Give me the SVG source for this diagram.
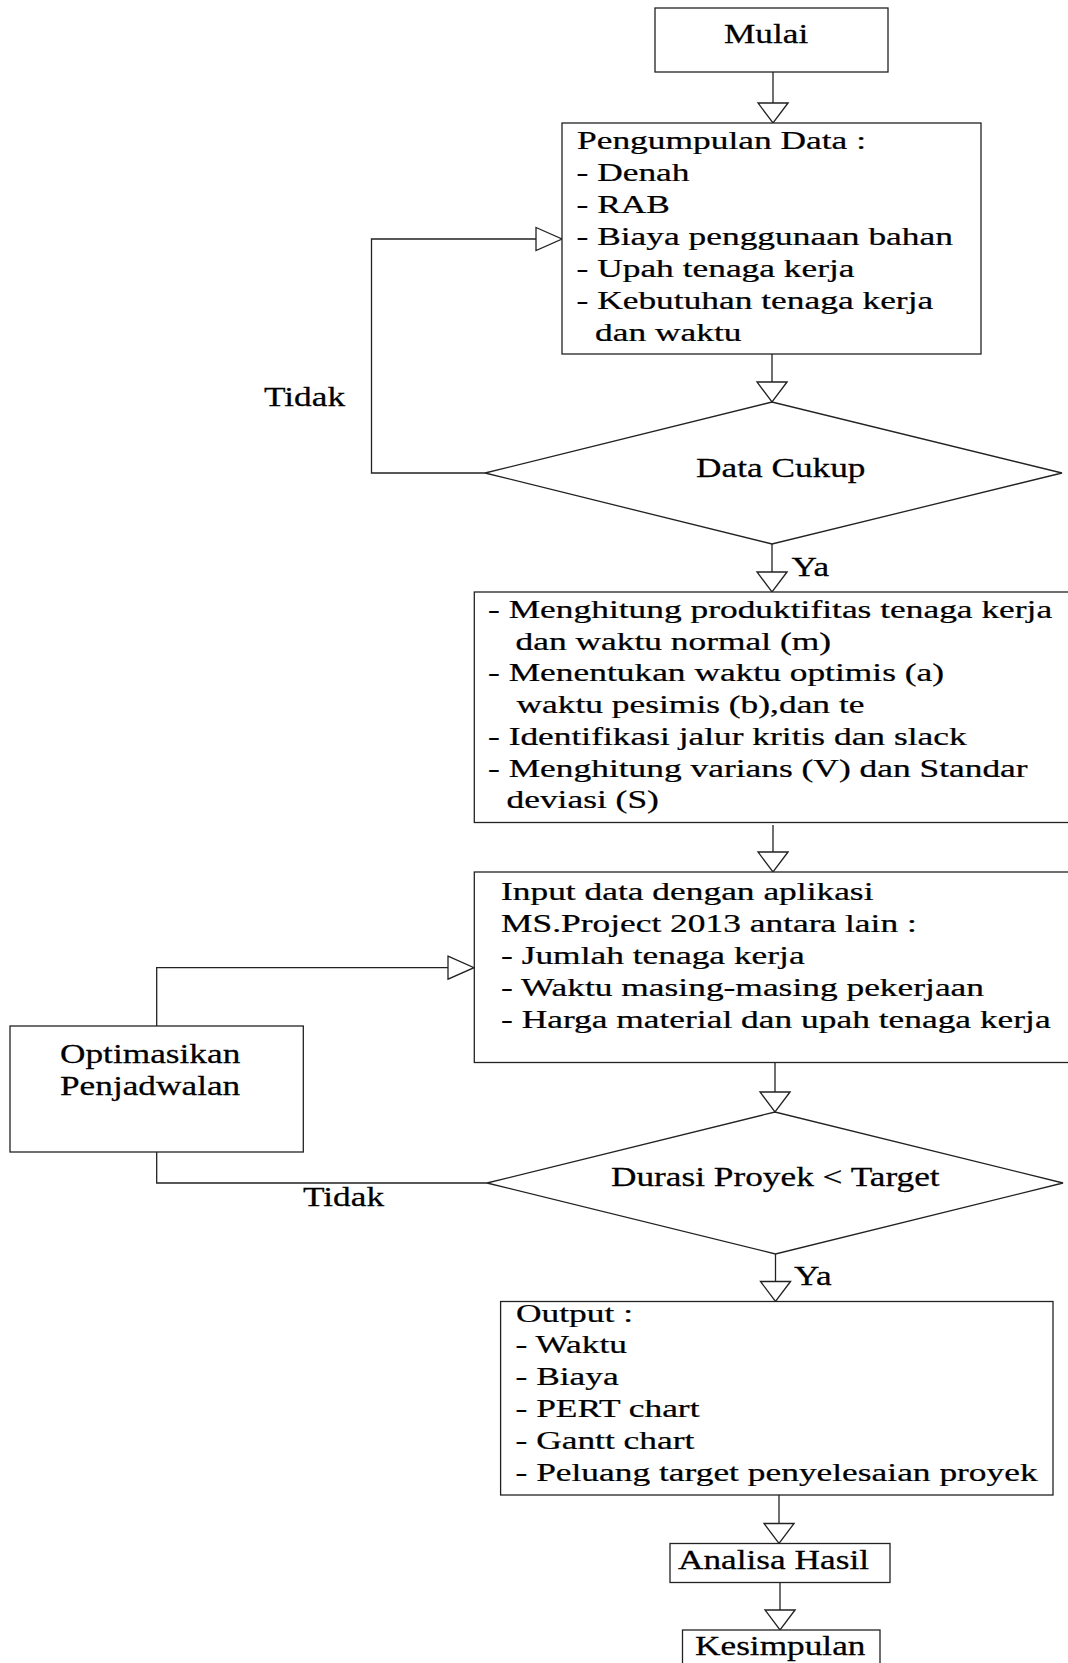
<svg xmlns="http://www.w3.org/2000/svg" width="1068" height="1663" viewBox="0 0 1068 1663">
<style>
.box{fill:#fff;stroke:#222;stroke-width:1.3}
.ln{fill:none;stroke:#222;stroke-width:1.3}
.t{font-family:"Liberation Serif","Times New Roman",serif;font-size:26px;fill:#000;stroke:#000;stroke-width:0.25}
.l{font-family:"Liberation Serif","Times New Roman",serif;font-size:27px;fill:#000;stroke:#000;stroke-width:0.25}
</style>
<defs>
<marker id="av" markerUnits="userSpaceOnUse" viewBox="0 0 20 30" refX="20" refY="15" markerWidth="20" markerHeight="30" orient="auto" overflow="visible">
<path d="M0,0 L20,15 L0,30 Z" fill="#fff" stroke="#222" stroke-width="1.3"/>
</marker>
<marker id="ah" markerUnits="userSpaceOnUse" viewBox="0 0 26 23" refX="26" refY="11.5" markerWidth="26" markerHeight="23" orient="auto" overflow="visible">
<path d="M0,0 L26,11.5 L0,23 Z" fill="#fff" stroke="#222" stroke-width="1.3"/>
</marker>
</defs>

<g id="connectors">
<path class="ln" d="M773,72 V123" marker-end="url(#av)"/>
<path class="ln" d="M772,354 V402" marker-end="url(#av)"/>
<path class="ln" d="M772,544 V592" marker-end="url(#av)"/>
<path class="ln" d="M485,473 H371.5 V239 H562" marker-end="url(#ah)"/>
<path class="ln" d="M773,825 V872" marker-end="url(#av)"/>
<path class="ln" d="M775,1062.5 V1112" marker-end="url(#av)"/>
<path class="ln" d="M487,1183 H156.7 V1152"/>
<path class="ln" d="M156.7,1026 V967.7 H474" marker-end="url(#ah)"/>
<path class="ln" d="M775.5,1254 V1301.5" marker-end="url(#av)"/>
<path class="ln" d="M779,1495 V1543.5" marker-end="url(#av)"/>
<path class="ln" d="M780,1582.5 V1630" marker-end="url(#av)"/>
<text class="l" x="0" y="405.7" transform="matrix(1.307 0 0 1 264 0)">Tidak</text>
<text class="l" x="0" y="575.7" transform="matrix(1.307 0 0 1 791.5 0)">Ya</text>
<text class="l" x="0" y="1205.7" transform="matrix(1.307 0 0 1 303 0)">Tidak</text>
<text class="l" x="0" y="1285" transform="matrix(1.307 0 0 1 794 0)">Ya</text>
</g>

<g id="n-mulai">
<rect class="box" x="655" y="8" width="233" height="64"/>
<text class="l" x="0" y="43.4" transform="matrix(1.307 0 0 1 724 0)">Mulai</text>
</g>

<g id="n-pengumpulan">
<rect class="box" x="562" y="123" width="419" height="231"/>
<text class="t" x="0" y="149" transform="matrix(1.362 0 0 1 577 0)">Pengumpulan Data :</text>
<text class="t" x="0" y="181.5" transform="matrix(1.362 0 0 1 576.5 0)">- Denah</text>
<text class="t" x="0" y="213.5" transform="matrix(1.362 0 0 1 576.5 0)">- RAB</text>
<text class="t" x="0" y="245.5" transform="matrix(1.362 0 0 1 576.5 0)">- Biaya penggunaan bahan</text>
<text class="t" x="0" y="277.5" transform="matrix(1.362 0 0 1 576.5 0)">- Upah tenaga kerja</text>
<text class="t" x="0" y="309.5" transform="matrix(1.362 0 0 1 576.5 0)">- Kebutuhan tenaga kerja</text>
<text class="t" x="0" y="341.5" transform="matrix(1.362 0 0 1 595 0)">dan waktu</text>
</g>

<g id="n-cukup">
<polygon class="box" points="485,473 772,402 1062,473 772,544"/>
<text class="l" x="0" y="477.3" transform="matrix(1.307 0 0 1 696 0)">Data Cukup</text>
</g>

<g id="n-hitung">
<rect class="box" x="474.3" y="592" width="600" height="230.5"/>
<text class="t" x="0" y="618.3" transform="matrix(1.362 0 0 1 488 0)">- Menghitung produktifitas tenaga kerja</text>
<text class="t" x="0" y="649.8" transform="matrix(1.362 0 0 1 515.5 0)">dan waktu normal (m)</text>
<text class="t" x="0" y="681.5" transform="matrix(1.362 0 0 1 488 0)">- Menentukan waktu optimis (a)</text>
<text class="t" x="0" y="713.3" transform="matrix(1.362 0 0 1 516.5 0)">waktu pesimis (b),dan te</text>
<text class="t" x="0" y="745" transform="matrix(1.362 0 0 1 488 0)">- Identifikasi jalur kritis dan slack</text>
<text class="t" x="0" y="776.8" transform="matrix(1.362 0 0 1 488 0)">- Menghitung varians (V) dan Standar</text>
<text class="t" x="0" y="808.5" transform="matrix(1.362 0 0 1 506.5 0)">deviasi (S)</text>
</g>

<g id="n-input">
<rect class="box" x="474.3" y="872" width="600" height="190.5"/>
<text class="t" x="0" y="900" transform="matrix(1.362 0 0 1 501 0)">Input data dengan aplikasi</text>
<text class="t" x="0" y="932" transform="matrix(1.362 0 0 1 501 0)">MS.Project 2013 antara lain :</text>
<text class="t" x="0" y="964" transform="matrix(1.362 0 0 1 501 0)">- Jumlah tenaga kerja</text>
<text class="t" x="0" y="996" transform="matrix(1.362 0 0 1 501 0)">- Waktu masing-masing pekerjaan</text>
<text class="t" x="0" y="1028" transform="matrix(1.362 0 0 1 501 0)">- Harga material dan upah tenaga kerja</text>
</g>

<g id="n-optimasi">
<rect class="box" x="10" y="1026" width="293.3" height="126"/>
<text class="l" x="0" y="1063.3" transform="matrix(1.307 0 0 1 60 0)">Optimasikan</text>
<text class="l" x="0" y="1095" transform="matrix(1.307 0 0 1 60 0)">Penjadwalan</text>
</g>

<g id="n-durasi">
<polygon class="box" points="487,1183 775,1112 1063,1183 775.5,1254"/>
<text class="l" x="0" y="1185.7" transform="matrix(1.307 0 0 1 611 0)">Durasi Proyek &lt; Target</text>
</g>

<g id="n-output">
<rect class="box" x="500.6" y="1301.5" width="552.4" height="193.5"/>
<text class="t" x="0" y="1321.7" transform="matrix(1.362 0 0 1 516 0)">Output :</text>
<text class="t" x="0" y="1353.5" transform="matrix(1.362 0 0 1 515.5 0)">- Waktu</text>
<text class="t" x="0" y="1385.3" transform="matrix(1.362 0 0 1 515.5 0)">- Biaya</text>
<text class="t" x="0" y="1417.2" transform="matrix(1.362 0 0 1 515.5 0)">- PERT chart</text>
<text class="t" x="0" y="1449" transform="matrix(1.362 0 0 1 515.5 0)">- Gantt chart</text>
<text class="t" x="0" y="1480.8" transform="matrix(1.362 0 0 1 515.5 0)">- Peluang target penyelesaian proyek</text>
</g>

<g id="n-analisa">
<rect class="box" x="670" y="1543.5" width="220" height="39"/>
<text class="l" x="0" y="1569.3" transform="matrix(1.307 0 0 1 678 0)">Analisa Hasil</text>
</g>

<g id="n-kesimpulan">
<rect class="box" x="682.5" y="1630" width="197.5" height="50"/>
<text class="l" x="0" y="1655" transform="matrix(1.307 0 0 1 695 0)">Kesimpulan</text>
</g>
</svg>
